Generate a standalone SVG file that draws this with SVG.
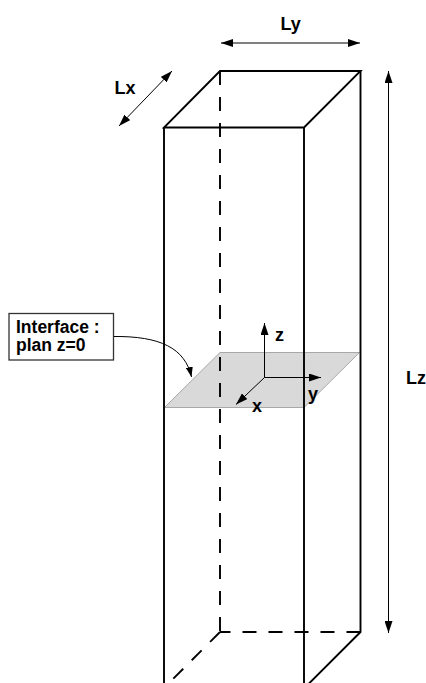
<svg xmlns="http://www.w3.org/2000/svg" width="426" height="683" viewBox="0 0 426 683">
<style>
.edge{fill:none;stroke:#000;stroke-width:1.9;stroke-linecap:butt}
.dash{fill:none;stroke:#000;stroke-width:1.9;stroke-dasharray:14 12}
.arr{fill:none;stroke:#000;stroke-width:1}
.lbl{font-family:"Liberation Sans",Arial,sans-serif;font-weight:bold;font-size:18px;fill:#000}
.box{font-family:"Liberation Sans",Arial,sans-serif;font-weight:bold;font-size:17.5px;fill:#000}
</style>
<defs>
<marker id="ah" viewBox="0 0 12 8" refX="12" refY="4" markerWidth="12" markerHeight="8" orient="auto-start-reverse" markerUnits="userSpaceOnUse">
<path d="M0,0 L12,4 L0,8 z" fill="#000"/>
</marker>
<marker id="ahs" viewBox="0 0 10 7" refX="10" refY="3.5" markerWidth="10" markerHeight="7" orient="auto" markerUnits="userSpaceOnUse">
<path d="M0,0 L10,3.5 L0,7 z" fill="#000"/>
</marker>
</defs>
<rect width="426" height="683" fill="#fff"/>
<g id="plane">
<path d="M220,352.5 L359.5,352.5 L304,407.5 L164.5,407.5 Z" fill="#d9d9d9" stroke="#a8a8a8" stroke-width="1"/>
</g>
<g id="column">
<path class="edge" d="M164,127.5 L304,127.5 L360.5,71 L220,71 Z"/>
<path class="edge" d="M164,127.5 L164,690"/>
<path class="edge" d="M304,127.5 L304,690"/>
<path class="edge" d="M360.5,71 L360.5,632 L304,688.5"/>
<path class="dash" d="M220,71 L220,632"/>
<path class="dash" d="M360.5,632 L220,632"/>
<path class="dash" d="M220,632 L162,690"/>
</g>
<g id="connectors">
<line class="arr" x1="221" y1="43" x2="360" y2="43" marker-start="url(#ah)" marker-end="url(#ah)"/>
<line class="arr" x1="119" y1="126" x2="172" y2="71" marker-start="url(#ah)" marker-end="url(#ah)"/>
<line class="arr" x1="388.5" y1="71" x2="388.5" y2="633" marker-start="url(#ah)" marker-end="url(#ah)"/>
<path class="arr" d="M113.5,336.5 C160,336 185,348 191.5,377" marker-end="url(#ahs)"/>
</g>
<g id="axes">
<line class="arr" x1="264.5" y1="377.5" x2="264.5" y2="323" marker-end="url(#ah)"/>
<line class="arr" x1="264.5" y1="377.5" x2="321" y2="377.5" marker-end="url(#ah)"/>
<line class="arr" x1="264.5" y1="377.5" x2="236" y2="404.5" marker-end="url(#ah)"/>
<text class="lbl" x="275" y="341">z</text>
<text class="lbl" x="308" y="400">y</text>
<text class="lbl" x="252" y="412">x</text>
</g>
<g id="interface-label">
<rect x="9" y="313.5" width="104.5" height="46.5" fill="#fff" stroke="#333" stroke-width="1.3"/>
<text class="box" x="16" y="332.5">Interface :</text>
<text class="box" x="16" y="351">plan z=0</text>
</g>
<g id="dim-labels">
<text class="lbl" x="280.5" y="30">Ly</text>
<text class="lbl" x="114.5" y="94">Lx</text>
<text class="lbl" x="406" y="384">Lz</text>
</g>
</svg>
